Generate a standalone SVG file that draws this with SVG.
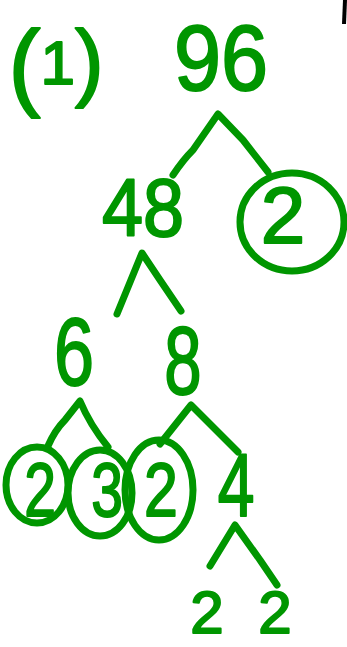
<svg xmlns="http://www.w3.org/2000/svg" width="347" height="647" viewBox="0 0 347 647">
<style>
.t{font-family:"Liberation Sans",Arial,sans-serif;fill:#009600;stroke:#009600;stroke-width:2;stroke-linejoin:round;text-anchor:middle}
.l{fill:none;stroke:#009600;stroke-width:7;stroke-linecap:round;stroke-linejoin:round}
</style>
<rect width="347" height="647" fill="#fff"/>
<path d="M345,0 L344,24" stroke="#000" stroke-width="4" fill="none"/>
<g id="label"><text class="t" x="56" y="98" font-size="96">(<tspan font-size="62" dy="-14">1</tspan><tspan font-size="86" dy="6">)</tspan></text></g>
<g id="connectors">
<path class="l" d="M173,175 Q183,160 193,150 L218,114 L243,140 L268,172"/>
<path class="l" d="M117,314 L142,253 L160,280 L181,311"/>
<path class="l" d="M48,446 Q55,430 65,420 L80,401 Q90,425 108,447"/>
<path class="l" d="M160,444 L191,405 L211,425 L238,452"/>
<path class="l" d="M210,566 L235,525 L260,560 L277,585"/>
</g>
<g id="n96"><text class="t" x="221" y="90" font-size="92" transform="translate(221 0) scale(0.92 1) translate(-221 0)">96</text></g>
<g id="n48"><text class="t" x="143" y="236" font-size="82" transform="translate(143 0) scale(0.9 1) translate(-143 0)">48</text></g>
<g id="n2a"><ellipse class="l" cx="292" cy="222" rx="52" ry="49"/><text class="t" x="283" y="243" font-size="80">2</text></g>
<g id="n6"><text class="t" x="74" y="385" font-size="96" transform="translate(74 0) scale(0.75 1) translate(-74 0)">6</text></g>
<g id="n8"><text class="t" x="183" y="394" font-size="96" transform="translate(183 0) scale(0.7 1) translate(-183 0)">8</text></g>
<g id="n2b"><ellipse class="l" cx="37" cy="485" rx="31" ry="38"/><text class="t" x="40" y="516" font-size="76" transform="translate(40 0) scale(0.75 1) translate(-40 0)">2</text></g>
<g id="n3"><ellipse class="l" cx="100" cy="493" rx="32" ry="43"/><text class="t" x="107" y="516" font-size="76" transform="translate(107 0) scale(0.75 1) translate(-107 0)">3</text></g>
<g id="n2c"><ellipse class="l" cx="159" cy="490" rx="34" ry="50"/><text class="t" x="161" y="516" font-size="76" transform="translate(161 0) scale(0.8 1) translate(-161 0)">2</text></g>
<g id="n4"><text class="t" x="236" y="516" font-size="88" transform="translate(236 0) scale(0.75 1) translate(-236 0)">4</text></g>
<g id="n2d"><text class="t" x="207" y="633" font-size="60">2</text></g>
<g id="n2e"><text class="t" x="275" y="633" font-size="60">2</text></g>
</svg>
